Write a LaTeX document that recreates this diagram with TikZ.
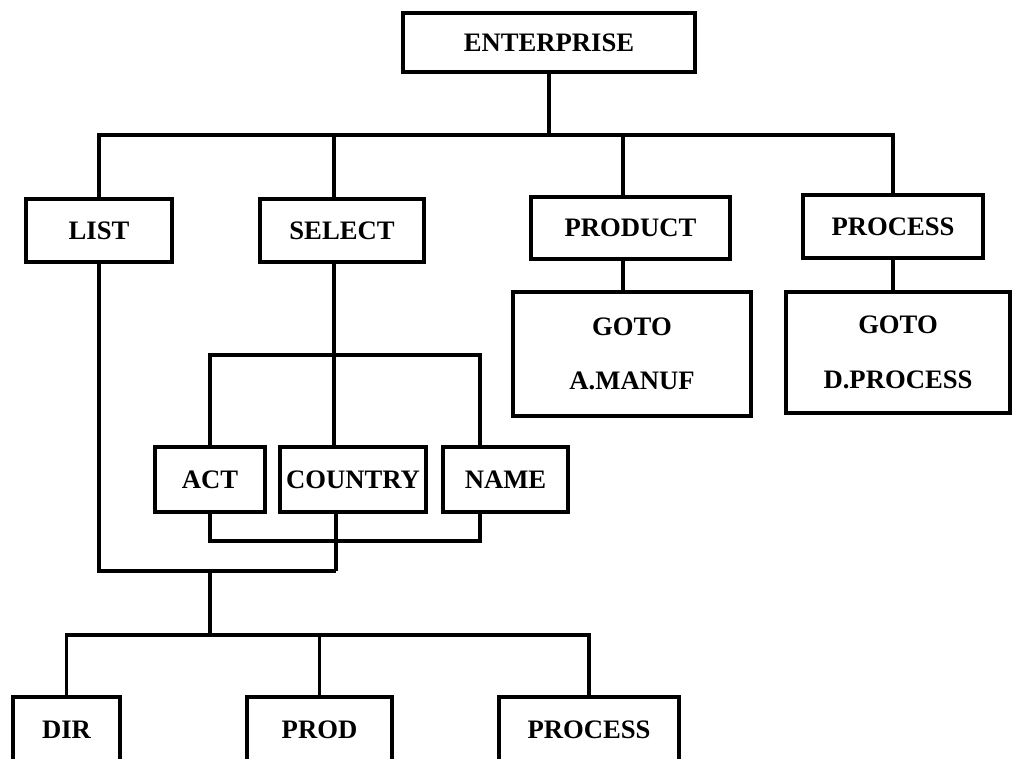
\documentclass[tikz,border=0pt]{standalone}
\usepackage{fontspec}
\setmainfont{Liberation Serif}
\begin{document}
\begin{tikzpicture}[x=0.75pt,y=-0.75pt,line width=2.6pt,
  box/.style 2 args={draw,inner sep=0pt,
    minimum width=#1*0.75pt,minimum height=#2*0.75pt,
    font=\bfseries\fontsize{20}{24}\selectfont},
  twoline/.style 2 args={box={#1}{#2},align=center}]
\useasboundingbox (0,0) rectangle (1012,758);
\clip (0,0) rectangle (1012,758);

% top level
\node[box={292}{59}] (ent) at (549,42.5) {ENTERPRISE};

% second level
\node[box={146}{63}] (list) at (99,230.5) {LIST};
\node[box={164}{63}] (select) at (342,230.5) {SELECT};
\node[box={199}{62}] (product) at (630.5,228) {PRODUCT};
\node[box={180}{63}] (process) at (893,226.5) {PROCESS};

% jump targets
\node[twoline={238}{124}] (goto1) at (632,354) {GOTO\\[17pt]A.MANUF};
\node[twoline={224}{121}] (goto2) at (898,352.5) {GOTO\\[17pt]D.PROCESS};

% selection criteria
\node[box={110}{65}] (act) at (210,479.5) {ACT};
\node[box={146}{65}] (country) at (353,479.5) {COUNTRY};
\node[box={125}{65}] (name) at (505.5,479.5) {NAME};

% bottom level (runs past the lower edge)
\node[box={107}{65}] (dir) at (66.5,729.5) {DIR};
\node[box={145}{65}] (prod) at (319.5,729.5) {PROD};
\node[box={180}{65}] (proc2) at (589,729.5) {PROCESS};

% junction points of the connectors
\coordinate (topbus) at (550,135);
\coordinate (selx) at (334,0);
\coordinate (prodx) at (623,0);
\coordinate (upbr) at (209,355);
\coordinate (namex) at (480,0);
\coordinate (lowbr) at (210,541);
\coordinate (ctyx) at (336,0);
\coordinate (join) at (336,571);
\coordinate (split) at (210,571);
\coordinate (botbus) at (210,635);

% connectors
\draw (ent.south) -- (ent.south |- topbus);
\draw (list.north) |- (topbus) -| (process.north);
\draw (select.north -| selx) -- (selx |- topbus);
\draw (product.north -| prodx) -- (prodx |- topbus);
\draw (product.south -| prodx) -- (goto1.north -| prodx);
\draw (process.south) -- (process.south |- goto2.north);

\draw (select.south -| selx) -- (country.north -| selx);
\draw (act.north) -- (act.north |- upbr) -| (name.north -| namex);
\draw (act.south) -- (act.south |- lowbr) -| (name.south -| namex);
\draw (country.south -| ctyx) -- (join);
\draw (list.south) |- (join);

\draw (split) -- (botbus);
\draw (dir.north) |- (botbus) -| (proc2.north);
\draw (prod.north) -- (prod.north |- botbus);
\end{tikzpicture}
\end{document}
